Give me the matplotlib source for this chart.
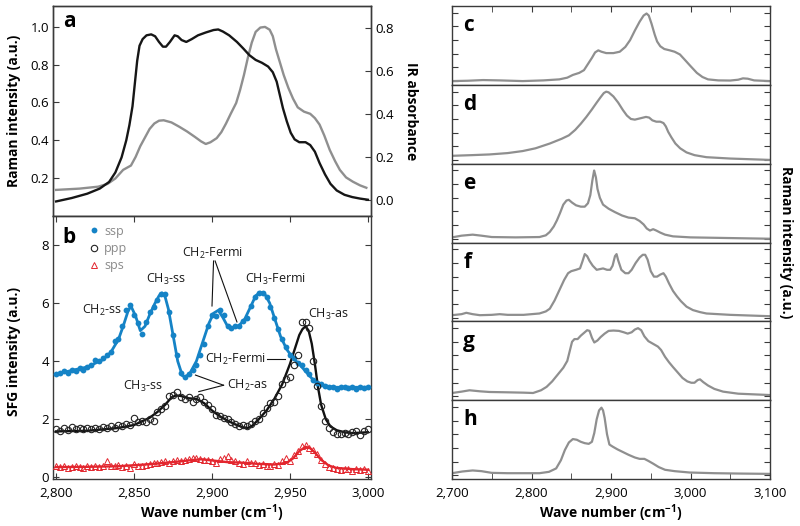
import numpy as np
import matplotlib
matplotlib.use('Agg')
import matplotlib.pyplot as plt
from matplotlib.lines import Line2D

plt.rcParams['font.family'] = ['Open Sans', 'DejaVu Sans']
plt.rcParams['mathtext.fontset'] = 'custom'
plt.rcParams['mathtext.rm'] = 'Open Sans'
plt.rcParams['mathtext.it'] = 'Open Sans:italic'
plt.rcParams['mathtext.bf'] = 'Open Sans:bold'
plt.rcParams['lines.solid_joinstyle'] = 'round'

# ---------------- Panel a: Raman (left axis) and IR (right axis) ----------------
raman_x = [2800, 2810, 2820, 2828, 2834, 2838, 2842, 2845, 2847, 2849, 2850.5, 2852, 2853.5,
           2855.5, 2858, 2861, 2863.5, 2866, 2868.5, 2870.5, 2873, 2876, 2878, 2880.5, 2883.5,
           2887, 2891, 2896, 2901, 2904, 2907, 2911, 2916, 2920, 2924, 2928, 2932, 2936, 2939,
           2941.5, 2943.5, 2945.5, 2948, 2950.5, 2953, 2956, 2960, 2963, 2966, 2969, 2972.5,
           2976, 2980, 2985, 2990, 2995, 3000]
raman_y = [0.077, 0.095, 0.118, 0.145, 0.18, 0.23, 0.31, 0.40, 0.48, 0.58, 0.70, 0.82, 0.90,
           0.935, 0.955, 0.96, 0.95, 0.92, 0.895, 0.895, 0.92, 0.955, 0.95, 0.93, 0.92,
           0.935, 0.955, 0.97, 0.983, 0.986, 0.975, 0.955, 0.92, 0.886, 0.85, 0.825, 0.81, 0.79, 0.76,
           0.71, 0.64, 0.57, 0.50, 0.44, 0.405, 0.39, 0.39, 0.375, 0.34, 0.28, 0.22,
           0.17, 0.135, 0.112, 0.10, 0.092, 0.086]
ir_x = [2800, 2815, 2827, 2833, 2838, 2843, 2848, 2851, 2854, 2857, 2860, 2863, 2866, 2869,
        2874, 2879, 2884, 2889, 2893, 2896, 2899, 2903, 2906, 2909, 2912, 2915.5, 2918, 2920.5,
        2923, 2925.5, 2928, 2931, 2934, 2937, 2939, 2941, 2943.5, 2946, 2949, 2952, 2955, 2959,
        2963, 2966, 2969, 2972, 2975.5, 2979, 2982, 2986, 2990.4, 2995, 2999]
ir_y = [0.047, 0.053, 0.062, 0.075, 0.1, 0.14, 0.16, 0.2, 0.25, 0.29, 0.33, 0.355, 0.368, 0.37,
        0.36, 0.34, 0.318, 0.293, 0.272, 0.26, 0.268, 0.287, 0.315, 0.355, 0.4, 0.45, 0.51, 0.58,
        0.66, 0.73, 0.78, 0.80, 0.803, 0.79, 0.76, 0.70, 0.64, 0.58, 0.52, 0.47, 0.43, 0.41,
        0.40, 0.38, 0.35, 0.3, 0.233, 0.18, 0.14, 0.105, 0.085, 0.068, 0.057]

# ---------------- Panel b: SFG spectra ----------------
sfg_x = np.arange(2800, 3000.1, 2.5)
ssp_pts = [3.55, 3.6, 3.65, 3.6, 3.7, 3.65, 3.75, 3.7, 3.8, 3.85,
           4.05, 4.0, 4.1, 4.2, 4.3, 4.7, 4.75, 5.2, 5.75, 5.95,
           5.6, 5.3, 4.95, 5.35, 5.7, 5.85, 6.1, 6.3, 6.3, 5.7,
           4.9, 4.2, 3.6, 3.45, 3.55, 3.7, 3.85, 4.2, 4.6, 5.2,
           5.6, 5.55, 5.75, 5.6, 5.2, 5.15, 5.2, 5.2, 5.4, 5.5,
           5.9, 6.2, 6.35, 6.35, 6.2, 5.85, 5.5, 5.1, 4.75, 4.5,
           4.2, 4.1, 3.95, 3.85, 3.7, 3.55, 3.35, 3.25, 3.2, 3.15,
           3.1, 3.12, 3.05, 3.1, 3.12, 3.08, 3.1, 3.05, 3.12, 3.08, 3.12]
ppp_pts = [1.65, 1.6, 1.7, 1.62, 1.72, 1.65, 1.7, 1.65, 1.68, 1.65,
           1.7, 1.66, 1.72, 1.7, 1.75, 1.7, 1.8, 1.78, 1.85, 1.8,
           2.05, 1.9, 1.95, 1.9, 2.0, 1.95, 2.25, 2.35, 2.45, 2.8,
           2.85, 2.95, 2.75, 2.7, 2.75, 2.6, 2.7, 2.75, 2.6, 2.5,
           2.35, 2.15, 2.1, 2.05, 2.0, 1.9, 1.85, 1.78, 1.8, 1.75,
           1.85, 1.95, 2.0, 2.2, 2.4, 2.55, 2.6, 2.8, 3.2, 3.4,
           3.45, 3.85, 4.2, 5.35, 5.35, 5.15, 4.0, 3.15, 2.45, 1.95,
           1.7, 1.55, 1.5, 1.5, 1.52, 1.5, 1.55, 1.6, 1.45, 1.6, 1.65]
sps_pts = [0.38, 0.35, 0.4, 0.33, 0.36, 0.38, 0.35, 0.32, 0.38, 0.35,
           0.4, 0.36, 0.38, 0.55, 0.4, 0.38, 0.42, 0.36, 0.4, 0.33,
           0.45, 0.4, 0.38, 0.42, 0.45, 0.5, 0.48, 0.52, 0.55, 0.5,
           0.55, 0.58, 0.55, 0.6, 0.62, 0.65, 0.68, 0.62, 0.58, 0.6,
           0.55, 0.5, 0.62, 0.68, 0.72, 0.6, 0.55, 0.5, 0.45, 0.55,
           0.5, 0.48, 0.42, 0.45, 0.4, 0.38, 0.45, 0.42, 0.55, 0.65,
           0.55, 0.75, 0.9, 1.08, 1.1, 1.02, 0.95, 0.8, 0.6, 0.45,
           0.35, 0.32, 0.3, 0.25, 0.3, 0.28, 0.22, 0.3, 0.25, 0.28, 0.2]

ssp_fit_x = [2800, 2810, 2820, 2830, 2835, 2840, 2843, 2846, 2848, 2851, 2854, 2857, 2860, 2863,
             2866, 2868, 2870, 2872, 2875, 2878, 2881, 2883, 2886, 2890, 2894, 2898, 2901, 2904,
             2907, 2910, 2913, 2917, 2921, 2925, 2928, 2931, 2934, 2937, 2940, 2944, 2948, 2952,
             2956, 2960, 2965, 2970, 2975, 2980, 2990, 3000]
ssp_fit_y = [3.55, 3.68, 3.8, 4.05, 4.3, 4.75, 5.2, 5.7, 5.9, 5.55, 5.05, 5.2, 5.6, 5.95,
             6.25, 6.35, 6.2, 5.8, 4.9, 4.0, 3.5, 3.45, 3.6, 4.0, 4.65, 5.3, 5.65, 5.75,
             5.5, 5.2, 5.15, 5.2, 5.45, 5.9, 6.25, 6.38, 6.3, 6.0, 5.5, 4.85, 4.4, 4.1,
             3.9, 3.65, 3.35, 3.2, 3.12, 3.1, 3.1, 3.1]
ppp_fit_x = [2800, 2820, 2840, 2850, 2860, 2865, 2870, 2874, 2877, 2880, 2885, 2890, 2895, 2900,
             2905, 2910, 2915, 2920, 2923, 2926, 2930, 2935, 2940, 2945, 2950, 2953, 2956, 2958,
             2960, 2962, 2964, 2966, 2968, 2970, 2973, 2976, 2980, 2985, 2990, 3000]
ppp_fit_y = [1.58, 1.6, 1.7, 1.8, 2.05, 2.25, 2.5, 2.75, 2.82, 2.8, 2.72, 2.7, 2.55, 2.3,
             2.1, 1.95, 1.82, 1.72, 1.7, 1.78, 2.0, 2.3, 2.7, 3.2, 3.9, 4.4, 4.9, 5.1,
             5.2, 5.05, 4.6, 3.9, 3.1, 2.5, 2.0, 1.75, 1.62, 1.55, 1.52, 1.55]
sps_fit_x = [2800, 2820, 2840, 2860, 2875, 2885, 2893, 2900, 2910, 2920, 2930, 2940, 2948, 2952,
             2956, 2960, 2963, 2966, 2970, 2975, 2980, 2990, 3000]
sps_fit_y = [0.35, 0.36, 0.38, 0.45, 0.52, 0.58, 0.62, 0.58, 0.52, 0.5, 0.46, 0.44, 0.5, 0.65,
             0.9, 1.05, 1.0, 0.85, 0.6, 0.4, 0.32, 0.28, 0.26]

# ---------------- Panels c-h: Raman spectra ----------------
c_x = [2700, 2720, 2739, 2760, 2789, 2815, 2835, 2845, 2852, 2860, 2866, 2871, 2876, 2880, 2884,
       2888, 2894, 2903, 2911, 2918, 2924, 2930, 2936, 2941, 2944.7, 2947.5, 2951, 2955, 2958,
       2962, 2967, 2974, 2980, 2986.7, 2993, 3000, 3008, 3015, 3022, 3035, 3050, 3060, 3066,
       3072, 3080, 3100]
c_y = [0.0, 0.005, 0.015, 0.01, 0.0, 0.01, 0.025, 0.05, 0.09, 0.12, 0.16, 0.25, 0.34, 0.42, 0.45,
       0.43, 0.41, 0.41, 0.43, 0.5, 0.6, 0.74, 0.87, 0.96, 0.99, 0.96, 0.84, 0.68, 0.58,
       0.51, 0.47, 0.45, 0.43, 0.39, 0.31, 0.22, 0.12, 0.06, 0.025, 0.01, 0.008, 0.02, 0.04,
       0.035, 0.01, 0.0]
d_x = [2700, 2725, 2747, 2770, 2789, 2805, 2823, 2838, 2847, 2855, 2862, 2869, 2876, 2882, 2887,
       2891, 2894, 2897, 2903, 2909, 2915, 2920, 2925, 2930, 2937, 2944, 2948, 2952, 2957, 2962,
       2966, 2969, 2972, 2976, 2981, 2987, 2995, 3005, 3020, 3050, 3100]
d_y = [0.06, 0.07, 0.08, 0.1, 0.13, 0.17, 0.24, 0.31, 0.36, 0.44, 0.53, 0.63, 0.74, 0.84, 0.92,
       0.98, 1.0, 0.99, 0.93, 0.84, 0.73, 0.65, 0.6, 0.59, 0.61, 0.63, 0.62, 0.58, 0.56, 0.56,
       0.54, 0.49, 0.41, 0.33, 0.24, 0.17, 0.11, 0.07, 0.04, 0.02, 0.0]
e_x = [2700, 2712, 2726, 2737, 2750, 2780, 2810, 2818, 2823, 2828, 2832, 2836, 2840, 2844, 2847,
       2851, 2856, 2862, 2867, 2871, 2874, 2876.5, 2878.8, 2881, 2883, 2886, 2890, 2897, 2905,
       2914, 2922, 2930, 2936, 2941, 2945, 2949, 2953, 2957, 2962, 2968, 2978, 3000, 3050, 3100]
e_y = [0.02, 0.045, 0.06, 0.045, 0.025, 0.02, 0.025, 0.05, 0.1, 0.18, 0.27, 0.38, 0.5, 0.56, 0.57,
       0.53, 0.49, 0.47, 0.47, 0.52, 0.64, 0.85, 1.0, 0.9, 0.73, 0.6, 0.5, 0.44, 0.39,
       0.34, 0.31, 0.3, 0.26, 0.21, 0.15, 0.12, 0.14, 0.12, 0.09, 0.06, 0.035, 0.02, 0.01, 0.0]
f_x = [2700, 2712, 2718, 2726, 2735, 2750, 2760, 2770, 2790, 2810, 2818, 2823, 2829, 2835, 2841,
       2846, 2850, 2856, 2861, 2864, 2867, 2870, 2873, 2877, 2882, 2886, 2890, 2895, 2899, 2902,
       2905, 2907, 2909, 2913, 2918, 2922, 2926, 2931, 2936, 2940, 2943, 2946, 2950, 2954, 2958,
       2962, 2966, 2969, 2973, 2978, 2983, 2988, 2995, 3003, 3012, 3020, 3050, 3100]
f_y = [0.035, 0.05, 0.07, 0.05, 0.035, 0.04, 0.05, 0.04, 0.04, 0.06, 0.09, 0.13, 0.25, 0.40, 0.55,
       0.65, 0.68, 0.70, 0.72, 0.82, 0.93, 0.90, 0.83, 0.76, 0.70, 0.71, 0.72, 0.70, 0.70, 0.76,
       0.90, 0.93, 0.84, 0.70, 0.65, 0.65, 0.70, 0.80, 0.88, 0.92, 0.92, 0.85, 0.68, 0.60, 0.60,
       0.63, 0.65, 0.6, 0.5, 0.39, 0.31, 0.24, 0.16, 0.11, 0.08, 0.06, 0.04, 0.02]
g_x = [2700, 2712, 2722, 2735, 2747, 2770, 2790, 2802, 2812, 2819, 2826, 2833, 2840, 2845, 2848,
       2851, 2854, 2858, 2862, 2866, 2870, 2873, 2876, 2879, 2883, 2887, 2892, 2897, 2903, 2910,
       2916, 2921, 2926, 2930, 2934, 2938, 2942, 2947, 2953, 2959, 2963, 2968, 2973, 2978, 2984,
       2990, 2996, 3001, 3005, 3009, 3012, 3016, 3022, 3030, 3041, 3060, 3100]
g_y = [0.05, 0.07, 0.09, 0.075, 0.065, 0.06, 0.055, 0.05, 0.09, 0.14, 0.22, 0.32, 0.42, 0.52, 0.66,
       0.8, 0.84, 0.84, 0.89, 0.93, 0.97, 0.96, 0.86, 0.79, 0.82, 0.87, 0.92, 0.96, 0.965, 0.96,
       0.94, 0.92, 0.94, 0.98, 1.0, 0.97, 0.88, 0.81, 0.77, 0.73, 0.68, 0.58, 0.5, 0.43, 0.35,
       0.27, 0.22, 0.2, 0.2, 0.24, 0.25, 0.21, 0.16, 0.11, 0.07, 0.04, 0.02]
h_x = [2700, 2713, 2726, 2737, 2750, 2770, 2790, 2810, 2822, 2831, 2837, 2842, 2847, 2852, 2857,
       2862, 2867, 2872, 2876, 2879, 2882, 2885, 2888, 2890, 2892, 2895, 2898, 2902, 2908, 2915,
       2922, 2930, 2936, 2942, 2947, 2953, 2960, 2968, 2980, 2999, 3030, 3060, 3100]
h_y = [0.03, 0.055, 0.07, 0.06, 0.035, 0.03, 0.03, 0.03, 0.05, 0.10, 0.22, 0.37, 0.48, 0.53, 0.52,
       0.49, 0.47, 0.46, 0.49, 0.62, 0.82, 0.95, 0.99, 0.95, 0.84, 0.6, 0.45, 0.42, 0.38, 0.34,
       0.3, 0.26, 0.24, 0.24, 0.21, 0.17, 0.12, 0.08, 0.06, 0.04, 0.03, 0.025, 0.02]
right_labels = ['c', 'd', 'e', 'f', 'g', 'h']

b_xticks = [2800, 2850, 2900, 2950, 3000]
b_xticklabels = ['2,800', '2,850', '2,900', '2,950', '3,000']
r_xticks = [2700, 2800, 2900, 3000, 3100]
r_xticklabels = ['2,700', '2,800', '2,900', '3,000', '3,100']

# ---------------- styling ----------------
W, H = 800, 526
SPINE = '#3a3a3a'
GRAY = '#8f8f8f'
BLUE = '#1583c6'
RED = '#e3262e'
TICKFS = 9.5
LABFS = 10
ANNFS = 9


def frac(l, t, r, b):
    return [l / W, 1 - b / H, (r - l) / W, (b - t) / H]


def style_spines(ax):
    for s in ax.spines.values():
        s.set_color(SPINE)
        s.set_linewidth(1.0)


fig = plt.figure(figsize=(8, 5.26), dpi=100)

# Panel a
axA = fig.add_axes(frac(53, 6, 371, 216))
axA2 = axA.twinx()
axA.plot(raman_x, raman_y, color='#161616', lw=1.7, zorder=3)
axA2.plot(ir_x, ir_y, color=GRAY, lw=1.7)
axA.set_zorder(axA2.get_zorder() + 1)
axA.patch.set_visible(False)
axA.set_xlim(2798, 3002)
axA.set_ylim(0, 1.11)
axA2.set_ylim(-0.074, 0.90)
axA.set_yticks([0.2, 0.4, 0.6, 0.8, 1.0])
axA.set_yticklabels(['0.2', '0.4', '0.6', '0.8', '1.0'])
axA2.set_yticks([0.0, 0.2, 0.4, 0.6, 0.8])
axA2.set_yticklabels(['0.0', '0.2', '0.4', '0.6', '0.8'])
axA.tick_params(axis='x', bottom=False, labelbottom=False)
axA.tick_params(axis='y', direction='in', length=4, labelsize=TICKFS, color=SPINE, pad=3)
axA2.tick_params(axis='y', direction='in', length=4, labelsize=TICKFS, color=SPINE, pad=3)
style_spines(axA)
style_spines(axA2)
axA.text(0.031, 0.9, 'a', transform=axA.transAxes, fontsize=15, fontweight='bold',
         va='baseline', ha='left')

# Panel b
axB = fig.add_axes(frac(53, 216, 371, 479))
axB.plot(sfg_x, ssp_pts, 'o', color=BLUE, ms=4.2, mew=0, zorder=3)
axB.plot(ssp_fit_x, ssp_fit_y, '-', color=BLUE, lw=2.0, zorder=2)
axB.plot(sfg_x, ppp_pts, 'o', mfc='none', mec='#222222', ms=4.6, mew=0.8, zorder=3)
axB.plot(ppp_fit_x, ppp_fit_y, '-', color='#111111', lw=1.7, zorder=2)
axB.plot(sfg_x, sps_pts, '^', mfc='none', mec=RED, ms=4.2, mew=0.7, zorder=3)
axB.plot(sps_fit_x, sps_fit_y, '-', color=RED, lw=1.7, zorder=2)
axB.set_xlim(2798, 3002)
axB.set_ylim(-0.06, 9.0)
axB.set_yticks([0, 2, 4, 6, 8])
axB.set_yticklabels(['0', '2', '4', '6', '8'])
axB.set_xticks(b_xticks)
axB.set_xticklabels(b_xticklabels)
axB.tick_params(direction='in', length=4, top=True, right=True, labelsize=TICKFS,
                color=SPINE, pad=3)
axB.tick_params(axis='x', pad=6)
style_spines(axB)
axB.text(0.031, 0.897, 'b', transform=axB.transAxes, fontsize=15, fontweight='bold',
         va='baseline', ha='left')

leg_handles = [Line2D([], [], ls='none', marker='o', color=BLUE, ms=4.2, mew=0),
               Line2D([], [], ls='none', marker='o', mfc='none', mec='#222222', ms=4.6, mew=0.8),
               Line2D([], [], ls='none', marker='^', mfc='none', mec=RED, ms=4.2, mew=0.7)]
leg = axB.legend(leg_handles, ['ssp', 'ppp', 'sps'], loc='upper left',
                 bbox_to_anchor=(0.09, 1.0), frameon=False, fontsize=ANNFS,
                 handlelength=0.6, handletextpad=0.5, labelspacing=0.35, borderaxespad=0.3)
for t in leg.get_texts():
    t.set_color('#8a8a8a')

ann_kw = dict(fontsize=ANNFS, color='#1a1a1a')
axB.text(2842.5, 5.75, 'CH$_2$-ss', ha='right', va='center', **ann_kw)
axB.text(2870.2, 6.8, 'CH$_3$-ss', ha='center', va='center', **ann_kw)
axB.text(2900.4, 7.72, 'CH$_2$-Fermi', ha='center', va='center', **ann_kw)
axB.text(2940.9, 6.8, 'CH$_3$-Fermi', ha='center', va='center', **ann_kw)
axB.text(2961.7, 5.6, 'CH$_3$-as', ha='left', va='center', **ann_kw)
axB.text(2934.5, 4.06, 'CH$_2$-Fermi', ha='right', va='center', **ann_kw)
axB.text(2856.0, 3.12, 'CH$_3$-ss', ha='center', va='center', **ann_kw)
axB.text(2909.6, 3.15, 'CH$_2$-as', ha='left', va='center', **ann_kw)
line_kw = dict(color='#111111', lw=0.8, zorder=4)
axB.plot([2901.0, 2900.0], [7.45, 5.9], **line_kw)
axB.plot([2902.0, 2916.0], [7.45, 5.35], **line_kw)
axB.plot([2935.0, 2946.8], [4.06, 4.06], **line_kw)
axB.plot([2907.4, 2889.4], [3.17, 3.52], **line_kw)
axB.plot([2907.4, 2891.5], [3.17, 2.95], **line_kw)

fig.text(14 / W, 1 - 111 / H, 'Raman intensity (a.u.)', rotation=90, ha='center',
         va='center', fontsize=LABFS, fontweight='bold')
fig.text(411 / W, 1 - 111 / H, 'IR absorbance', rotation=270, ha='center',
         va='center', fontsize=LABFS, fontweight='bold')
fig.text(14 / W, 1 - 352 / H, 'SFG intensity (a.u.)', rotation=90, ha='center',
         va='center', fontsize=LABFS, fontweight='bold')
fig.text(212 / W, 1 - 513 / H, 'Wave number (cm$^{\\mathbf{-1}}$)', ha='center',
         va='center', fontsize=LABFS, fontweight='bold')

# Panels c-h
right_x = [c_x, d_x, e_x, f_x, g_x, h_x]
right_y = [c_y, d_y, e_y, f_y, g_y, h_y]
ph = (479 - 6) / 6.0
for i in range(6):
    top = 6 + i * ph
    ax = fig.add_axes(frac(452, top, 770, top + ph))
    ax.plot(right_x[i], right_y[i], color=GRAY, lw=1.6)
    ax.set_xlim(2700, 3100)
    ax.set_ylim(-0.055, 1.10)
    ax.set_yticks([0, 0.2, 0.4, 0.6, 0.8, 1.0])
    ax.tick_params(axis='y', direction='in', length=4, left=True, right=True,
                   labelleft=False, color=SPINE)
    ax.set_xticks(r_xticks)
    ax.set_xticks([2750, 2850, 2950, 3050], minor=True)
    if i == 0:
        ax.tick_params(axis='x', which='both', direction='in', length=4, top=True,
                       bottom=False, labelbottom=False, color=SPINE)
    elif i == 5:
        ax.set_xticklabels(r_xticklabels)
        ax.tick_params(axis='x', which='both', direction='in', length=4, top=False,
                       bottom=True, labelsize=TICKFS, color=SPINE, pad=6)
    else:
        ax.tick_params(axis='x', which='both', top=False, bottom=False, labelbottom=False)
    style_spines(ax)
    ax.text(0.035, 0.68, right_labels[i], transform=ax.transAxes, fontsize=15,
            fontweight='bold', va='baseline', ha='left')

fig.text(786 / W, 1 - 242 / H, 'Raman intensity (a.u.)', rotation=270, ha='center',
         va='center', fontsize=LABFS, fontweight='bold')
fig.text(611 / W, 1 - 513 / H, 'Wave number (cm$^{\\mathbf{-1}}$)', ha='center',
         va='center', fontsize=LABFS, fontweight='bold')

fig.savefig('out.png', dpi=100)
